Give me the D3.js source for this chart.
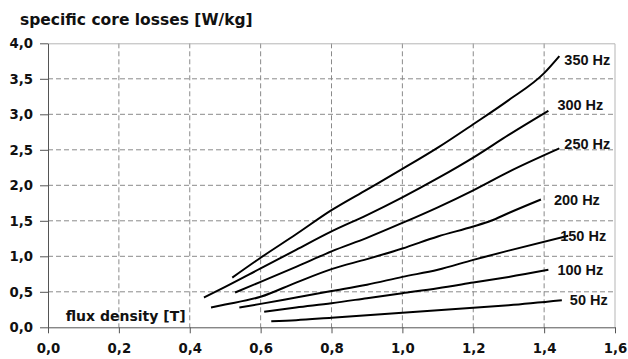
<!DOCTYPE html>
<html>
<head>
<meta charset="utf-8">
<script src="https://cdn.jsdelivr.net/npm/d3@7"></script>
<style>
  body { margin: 0; background: #fff; }
  .axis text { font-family: "DejaVu Sans", sans-serif; font-weight: bold; font-size: 13.3px; fill: #111; }
  .axis path, .axis line { stroke: #555; }
</style>
</head>
<body>
<div id="chart"></div>
<script>
// tick values
const xTicks = [0, 0.2, 0.4, 0.6, 0.8, 1.0, 1.2, 1.4, 1.6];
const yTicks = [0, 0.5, 1.0, 1.5, 2.0, 2.5, 3.0, 3.5, 4.0];

// series: [flux density T, loss W/kg]
const f350 = [[0.52, 0.70], [0.6, 0.98], [0.7, 1.31], [0.8, 1.65], [0.9, 1.94], [1.0, 2.23], [1.1, 2.53], [1.2, 2.86], [1.3, 3.20], [1.4, 3.58], [1.443, 3.82]];
const f300 = [[0.44, 0.42], [0.5, 0.57], [0.6, 0.83], [0.7, 1.09], [0.8, 1.35], [0.9, 1.58], [1.0, 1.83], [1.1, 2.10], [1.2, 2.39], [1.3, 2.71], [1.412, 3.05]];
const f250 = [[0.528, 0.49], [0.6, 0.64], [0.7, 0.85], [0.8, 1.07], [0.9, 1.26], [1.0, 1.47], [1.1, 1.69], [1.2, 1.93], [1.3, 2.19], [1.443, 2.52]];
const f200 = [[0.46, 0.28], [0.5, 0.32], [0.6, 0.43], [0.7, 0.63], [0.8, 0.82], [0.9, 0.96], [1.0, 1.11], [1.1, 1.28], [1.2, 1.42], [1.25, 1.50], [1.3, 1.61], [1.391, 1.80]];
const f150 = [[0.54, 0.28], [0.6, 0.33], [0.7, 0.42], [0.8, 0.51], [0.9, 0.60], [1.0, 0.71], [1.1, 0.81], [1.2, 0.95], [1.3, 1.08], [1.468, 1.29]];
const f100 = [[0.61, 0.22], [0.7, 0.28], [0.8, 0.34], [0.9, 0.41], [1.0, 0.48], [1.1, 0.55], [1.2, 0.63], [1.3, 0.71], [1.412, 0.81]];
const f50 = [[0.63, 0.085], [0.7, 0.10], [0.8, 0.135], [0.9, 0.17], [1.0, 0.205], [1.1, 0.24], [1.2, 0.275], [1.3, 0.31], [1.45, 0.38]];

const seriesNames = ['350 Hz', '300 Hz', '250 Hz', '200 Hz', '150 Hz', '100 Hz', '50 Hz'];
const seriesData = [f350, f300, f250, f200, f150, f100, f50];

// label nudges (px) from each curve's last point
const labelNudge = [[5, 4], [9, -6], [5, -4], [13, 0], [-8, 0], [9, 0], [8, 0]];

const W = 628, H = 359;
const margin = { top: 43.3, right: 13, bottom: 31.7, left: 48 };
const width = W - margin.left - margin.right;
const height = H - margin.top - margin.bottom;

const svg = d3.select('#chart').append('svg')
    .attr('width', W)
    .attr('height', H);

const g = svg.append('g')
    .attr('transform', `translate(${margin.left},${margin.top})`);

const x = d3.scaleLinear().domain([0, 1.6]).range([0, width]);
const y = d3.scaleLinear().domain([0, 4]).range([height, 0]);
const fmt = d => d3.format('.1f')(d).replace('.', ',');

// Grid
g.append('g')
    .selectAll('line')
    .data(yTicks.filter(d => d > 0 && d < 4))
    .join('line')
    .attr('x1', 0).attr('x2', width)
    .attr('y1', d => y(d)).attr('y2', d => y(d))
    .attr('stroke', '#8a8a8a')
    .attr('stroke-dasharray', '5,3');

g.append('g')
    .selectAll('line')
    .data(xTicks.filter(d => d > 0 && d < 1.6))
    .join('line')
    .attr('x1', d => x(d)).attr('x2', d => x(d))
    .attr('y1', 0).attr('y2', height)
    .attr('stroke', '#8a8a8a')
    .attr('stroke-dasharray', '5,3');

// frame top + right
g.append('path')
    .attr('d', `M0,0.5H${width}V${height}`)
    .attr('fill', 'none')
    .attr('stroke', '#b5b5b5');

// Axes
g.append('g')
    .attr('class', 'axis')
    .call(d3.axisLeft(y).tickValues(yTicks).tickFormat(fmt).tickSize(8).tickPadding(7).tickSizeOuter(0));

g.append('g')
    .attr('class', 'axis')
    .attr('transform', `translate(0,${height})`)
    .call(d3.axisBottom(x).tickValues(xTicks).tickFormat(fmt).tickSize(6).tickPadding(10).tickSizeOuter(0));

// Curves
const line = d3.line()
    .x(d => x(d[0]))
    .y(d => y(d[1]))
    .curve(d3.curveMonotoneX);

g.append('g')
    .selectAll('path')
    .data(seriesData)
    .join('path')
    .attr('d', line)
    .attr('fill', 'none')
    .attr('stroke', '#000')
    .attr('stroke-width', 2);

// Curve labels
g.append('g')
    .selectAll('text')
    .data(seriesNames)
    .join('text')
    .attr('x', (d, i) => x(seriesData[i][seriesData[i].length - 1][0]) + labelNudge[i][0])
    .attr('y', (d, i) => y(seriesData[i][seriesData[i].length - 1][1]) + labelNudge[i][1])
    .attr('dy', '0.35em')
    .style('font-family', '"Liberation Sans", Arial, sans-serif')
    .style('font-weight', 'bold')
    .style('font-size', '14.5px')
    .attr('fill', '#111')
    .text(d => d);

// Axis titles
svg.append('text')
    .attr('x', 20)
    .attr('y', 25)
    .style('font-family', '"DejaVu Sans", sans-serif')
    .style('font-weight', 'bold')
    .style('font-size', '15.5px')
    .attr('fill', '#111')
    .text('specific core losses [W/kg]');

g.append('text')
    .attr('x', x(0.05))
    .attr('y', height - 6)
    .style('font-family', '"DejaVu Sans", sans-serif')
    .style('font-weight', 'bold')
    .style('font-size', '14px')
    .attr('fill', '#111')
    .text('flux density [T]');
</script>
</body>
</html>
